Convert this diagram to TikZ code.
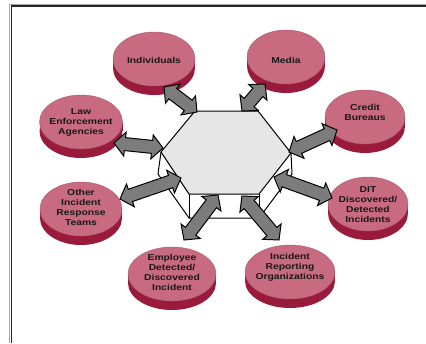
\documentclass[tikz,border=0pt]{standalone}
\usepackage{fontspec}
\newfontfamily\lblfont[FakeStretch=1.2]{Liberation Sans}
\usetikzlibrary{calc,shapes.geometric}
\definecolor{disctop}{HTML}{C86A80}
\definecolor{discside}{HTML}{9A1A3C}
\definecolor{discrim}{HTML}{7E1532}
\definecolor{hexfill}{HTML}{E6E6E6}
\definecolor{arrowfill}{HTML}{7C7C7C}
\tikzset{
  disctopsty/.style={ellipse, fill=disctop, draw=discrim!70, line width=0.4pt, inner sep=0pt, minimum height=54pt},
  lbl/.style={font=\lblfont\bfseries\fontsize{8.6}{10}\selectfont, align=center, text=black!90, inner sep=0pt},
  arrowsty/.style={fill=arrowfill, draw=black, line width=1pt, line join=miter},
  hexedge/.style={draw=black, line width=1pt, line join=miter},
  framedark/.style={draw=black!85, line width=1.8pt},
  framelight/.style={draw=black!35, line width=1pt},
}
\newcommand\disc[4]{% name, x, y, width
  \fill[discside] (#2-#4/2,#3) rectangle (#2+#4/2,#3+9);
  \fill[discside] (#2,#3+9) ellipse ({#4/2} and 27);
  \node[disctopsty, minimum width=#4 pt] (#1) at (#2,#3) {};
}
\newcommand\blockarrow[2]{%
  \filldraw[arrowsty] (#1)
    -- ($(#1)!11pt!(#2)!12pt!90:(#2)$)
    -- ($(#1)!11pt!(#2)!6.5pt!90:(#2)$)
    -- ($(#2)!11pt!(#1)!6.5pt!-90:(#1)$)
    -- ($(#2)!11pt!(#1)!12pt!-90:(#1)$)
    -- (#2)
    -- ($(#2)!11pt!(#1)!12pt!90:(#1)$)
    -- ($(#2)!11pt!(#1)!6.5pt!90:(#1)$)
    -- ($(#1)!11pt!(#2)!6.5pt!-90:(#2)$)
    -- ($(#1)!11pt!(#2)!12pt!-90:(#2)$)
    -- cycle;
}
\begin{document}
\begin{tikzpicture}[x=1pt,y=-1pt]
\useasboundingbox (0,0) rectangle (426,343);
\fill[white] (0,0) rectangle (426,343);
% frame
\draw[framelight] (9,343) -- (9,4) -- (426,4);
\draw[framedark] (11.5,343) -- (11.5,6.2) -- (426,6.2);

% discs
\disc{ind}{154}{59}{82}
\disc{med}{286}{57}{78}
\disc{cre}{365}{117}{80}
\disc{law}{81}{122}{83}
\disc{dit}{368}{204}{80}
\disc{oth}{81}{209}{82}
\disc{emp}{172}{274}{88}
\disc{iro}{290}{272}{90}

% labels
\node[lbl] (ind-t) at (154,60) {Individuals};
\node[lbl] (med-t) at (286,60) {Media};
\node[lbl] (cre-t) at (365,112) {Credit\\Bureaus};
\node[lbl] (law-t) at (81,122) {Law\\Enforcement\\Agencies};
\node[lbl] (dit-t) at (368,205) {DIT\\Discovered/\\Detected\\Incidents};
\node[lbl] (oth-t) at (81,207) {Other\\Incident\\Response\\Teams};
\node[lbl] (emp-t) at (172,272) {Employee\\Detected/\\Discovered\\Incident};
\node[lbl] (iro-t) at (290,267) {Incident\\Reporting\\Organizations};

% prism
\coordinate (hTL) at (195,111);
\coordinate (hTR) at (258,111);
\coordinate (hR) at (291,153);
\coordinate (hBR) at (259,194);
\coordinate (hBL) at (189,194);
\coordinate (hL) at (161,152);
\coordinate (lL) at (158,174);
\coordinate (lBL) at (189,218);
\coordinate (lBR) at (259,218);
\coordinate (lR) at (292,174);
\draw[hexedge] (hL) -- (lL) -- (lBL) -- (lBR) -- (lR) -- (hR);
\draw[hexedge] (hBL) -- (lBL);
\draw[hexedge] (hBR) -- (lBR);
\draw[hexedge, fill=hexfill] (hTL) -- (hTR) -- (hR) -- (hBR) -- (hBL) -- (hL) -- cycle;

% arrow end points
\coordinate (a1o) at (164,87);
\coordinate (a1i) at (197,112);
\coordinate (a2o) at (265,84);
\coordinate (a2i) at (242,111);
\coordinate (a3o) at (337,130);
\coordinate (a3i) at (289,152);
\coordinate (a4o) at (114,143);
\coordinate (a4i) at (163,148);
\coordinate (a5o) at (120,199);
\coordinate (a5i) at (181,178);
\coordinate (a6o) at (332,198);
\coordinate (a6i) at (274,177);
\coordinate (a7o) at (184,240);
\coordinate (a7i) at (218,195);
\coordinate (a8o) at (279,240);
\coordinate (a8i) at (242,196);

\blockarrow{a1o}{a1i}
\blockarrow{a2o}{a2i}
\blockarrow{a3o}{a3i}
\blockarrow{a4o}{a4i}
\blockarrow{a5o}{a5i}
\blockarrow{a6o}{a6i}
\blockarrow{a7o}{a7i}
\blockarrow{a8o}{a8i}
\end{tikzpicture}
\end{document}
